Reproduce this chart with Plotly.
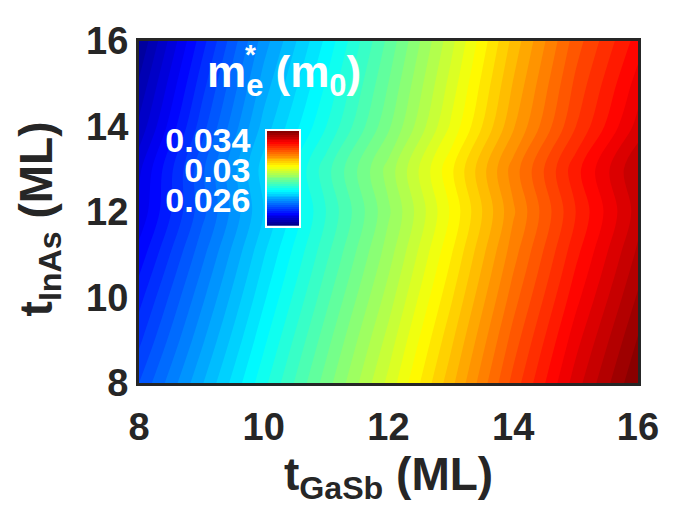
import plotly.graph_objects as go

# ---- data ----
t_gasb = [8, 9, 10, 11, 12, 13, 14, 15, 16]          # x (ML)
t_inas = [8, 9, 10, 11, 12, 13, 14, 15, 16]          # y (ML)
# electron effective mass m_e* (m0), rows = t_inas, cols = t_gasb
me_row_08 = [0.02503, 0.02627, 0.02751, 0.02874, 0.02997, 0.03134, 0.03280, 0.03412, 0.03527]
me_row_09 = [0.02471, 0.02599, 0.02727, 0.02851, 0.02974, 0.03111, 0.03257, 0.03389, 0.03504]
me_row_10 = [0.02442, 0.02572, 0.02703, 0.02827, 0.02950, 0.03087, 0.03233, 0.03364, 0.03480]
me_row_11 = [0.02411, 0.02545, 0.02680, 0.02804, 0.02927, 0.03064, 0.03210, 0.03341, 0.03457]
me_row_12 = [0.02381, 0.02518, 0.02657, 0.02785, 0.02908, 0.03044, 0.03190, 0.03322, 0.03437]
me_row_13 = [0.02369, 0.02521, 0.02669, 0.02800, 0.02923, 0.03060, 0.03206, 0.03338, 0.03450]
me_row_14 = [0.02330, 0.02490, 0.02641, 0.02759, 0.02882, 0.03019, 0.03165, 0.03296, 0.03409]
me_row_15 = [0.02302, 0.02465, 0.02617, 0.02736, 0.02862, 0.02999, 0.03145, 0.03277, 0.03385]
me_row_16 = [0.02273, 0.02439, 0.02593, 0.02714, 0.02843, 0.02980, 0.03126, 0.03258, 0.03360]
me_grid = [me_row_08, me_row_09, me_row_10, me_row_11, me_row_12,
           me_row_13, me_row_14, me_row_15, me_row_16]

c_min = 0.02247
c_max = 0.03527
n_levels = 50
axis_ticks = [8, 10, 12, 14, 16]
cbar_ticks = [0.026, 0.03, 0.034]
cbar_ticktext = ["0.026", "0.03", "0.034"]

# MATLAB jet colormap
jet = [[0.0, "rgb(0,0,128)"], [0.125, "rgb(0,0,255)"], [0.375, "rgb(0,255,255)"],
       [0.625, "rgb(255,255,0)"], [0.875, "rgb(255,0,0)"], [1.0, "rgb(128,0,0)"]]

FONT = "Liberation Sans, Arial, Helvetica, sans-serif"
DARK = "#262626"

step = (c_max - c_min) / n_levels
level_edges = [c_min + i * step for i in range(n_levels + 1)]
level_mid = [[(level_edges[i] + level_edges[i + 1]) / 2] for i in range(n_levels)]

fig = go.Figure()
fig.add_trace(go.Contour(
    x=t_gasb, y=t_inas, z=me_grid,
    colorscale=jet, zmin=c_min, zmax=c_max,
    contours=dict(coloring="fill", showlines=False,
                  start=c_min, end=c_max, size=step),
    line=dict(width=0), showscale=False,
    xaxis="x", yaxis="y",
))
# inset colour bar drawn as a banded heatmap on its own small axes
fig.add_trace(go.Heatmap(
    x=[0, 1], y=level_edges, z=level_mid,
    colorscale=jet, zmin=c_min, zmax=c_max, showscale=False,
    xaxis="x2", yaxis="y2", hoverinfo="skip",
))

# page is shown with an 8px body offset; plot area on screen: x 139-638, y 37-383
OFF = 8
W, H = 700, 525
L, T = 139 - OFF, 37 - OFF
R = W - (638 - OFF)
B = H - (383 - OFF)
pw, ph = W - L - R, H - T - B

def px_x(p):
    return (p - OFF - L) / pw

def px_y(p):
    return (H - B - (p - OFF)) / ph

fig.update_layout(
    width=W, height=H,
    margin=dict(l=L, r=R, t=T, b=B),
    paper_bgcolor="white", plot_bgcolor="white",
    font=dict(family=FONT, color=DARK),
    xaxis=dict(range=[8, 16], tickvals=axis_ticks, ticks="",
               showline=True, mirror=True, linecolor=DARK, linewidth=3,
               showgrid=False, zeroline=False,
               tickfont=dict(size=38, family=FONT, color=DARK, weight="bold"),
               ticklabelstandoff=8,
               title=dict(text="t<sub>GaSb</sub> (ML)", standoff=10,
                          font=dict(size=46, family=FONT, color=DARK, weight="bold"))),
    yaxis=dict(range=[8, 16], tickvals=axis_ticks, ticks="",
               showline=True, mirror=True, linecolor=DARK, linewidth=3,
               showgrid=False, zeroline=False,
               tickfont=dict(size=38, family=FONT, color=DARK, weight="bold"),
               ticklabelstandoff=0),
    xaxis2=dict(domain=[px_x(267), px_x(299)], anchor="y2", range=[0, 1],
                showticklabels=False, ticks="", showgrid=False, zeroline=False,
                showline=True, mirror=True, linecolor="white", linewidth=1.5),
    yaxis2=dict(domain=[px_y(224), px_y(128)], anchor="x2",
                range=[c_min, c_max], tickvals=cbar_ticks, ticktext=cbar_ticktext,
                ticks="", showgrid=False, zeroline=False,
                showline=True, mirror=True, linecolor="white", linewidth=1.5,
                tickfont=dict(size=34, family=FONT, color="white", weight="bold"),
                ticklabelstandoff=8),
    showlegend=False,
)

# y axis title as rotated annotation
fig.add_annotation(
    text="t<sub>InAs</sub> (ML)", xref="paper", yref="paper",
    x=px_x(8), y=px_y(217), xanchor="left", yanchor="middle",
    textangle=-90, showarrow=False,
    font=dict(size=46, family=FONT, color=DARK, weight="bold"),
)
# colour bar title
fig.add_annotation(
    text="m<sub>e</sub> (m<sub>0</sub>)", xref="paper", yref="paper",
    x=px_x(205), y=px_y(102), xanchor="left", yanchor="bottom",
    showarrow=False,
    font=dict(size=44, family=FONT, color="white", weight="bold"),
)
fig.add_annotation(
    text="*", xref="paper", yref="paper",
    x=px_x(250), y=px_y(33), xanchor="center", yanchor="top",
    showarrow=False,
    font=dict(size=28, family=FONT, color="white", weight="bold"),
)

fig.write_html("out.html")
